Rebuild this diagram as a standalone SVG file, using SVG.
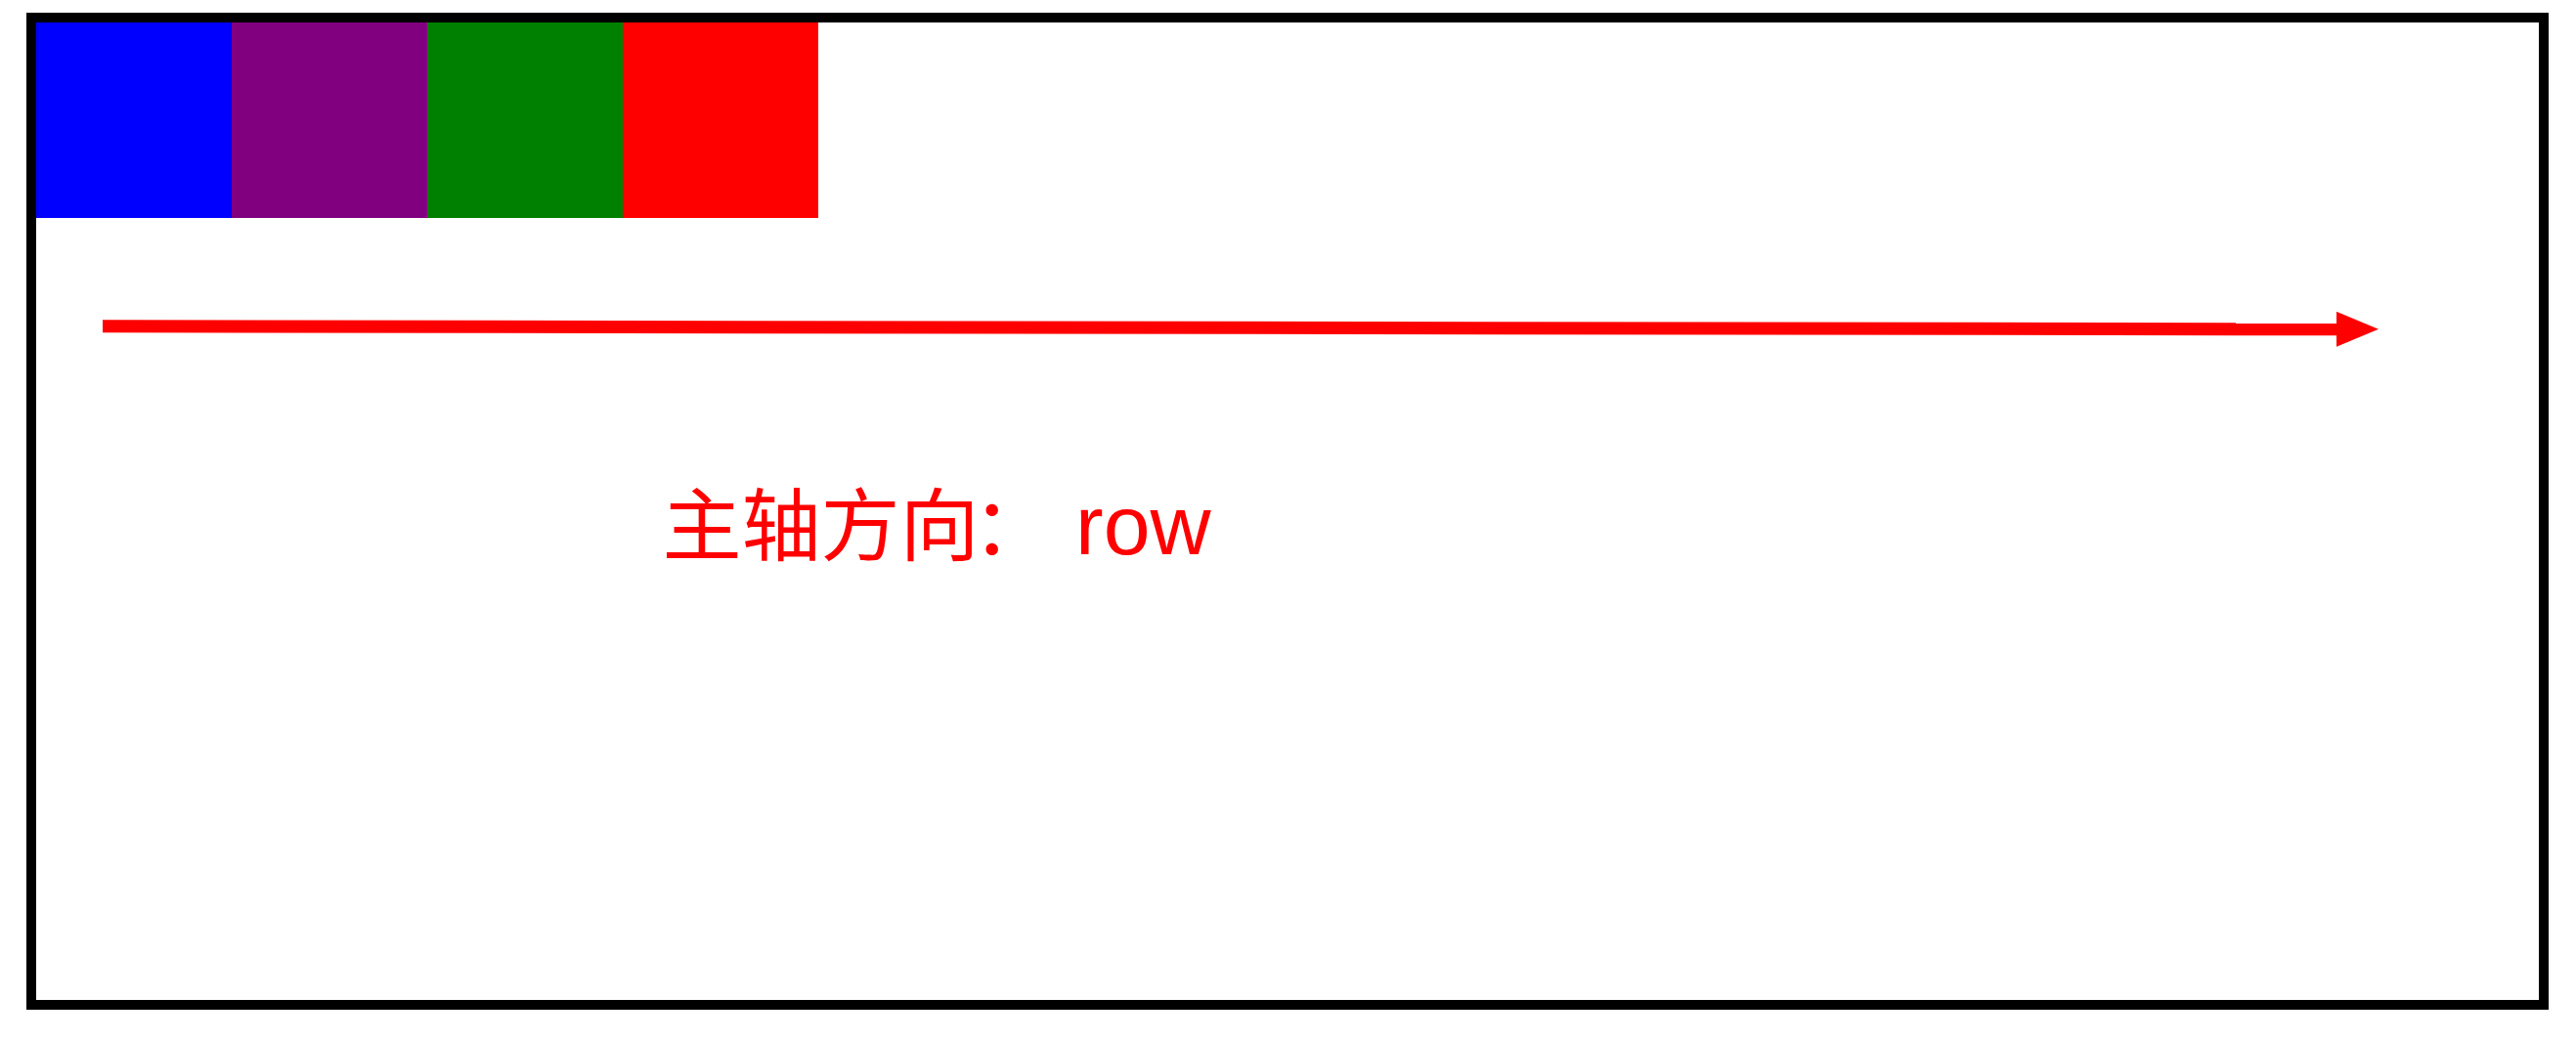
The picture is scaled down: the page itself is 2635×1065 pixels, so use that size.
<svg xmlns="http://www.w3.org/2000/svg" width="2635" height="1065" viewBox="0 0 2635 1065">
  <style>
    .box { stroke: none; }
    .label { font-family: "Noto Sans CJK SC", "Noto Sans", sans-serif; font-size: 81px; fill: #ff0000; }
    .latin { font-family: "Liberation Sans", Arial, sans-serif; font-size: 86px; }
  </style>
  <defs>
    <marker id="arrow" markerUnits="userSpaceOnUse" markerWidth="44" markerHeight="36" refX="0" refY="18" orient="auto">
      <path d="M0,0 L43,18 L0,36 Z" fill="#ff0000"/>
    </marker>
  </defs>
  <rect width="2635" height="1065" fill="#ffffff"/>
  <g id="container">
    <rect x="32" y="18" width="2570" height="1010" fill="none" stroke="#000000" stroke-width="10"/>
  </g>
  <g id="item-blue"><rect class="box" x="37" y="23" width="200" height="200" fill="#0000ff"/></g>
  <g id="item-purple"><rect class="box" x="237" y="23" width="200" height="200" fill="#800080"/></g>
  <g id="item-green"><rect class="box" x="437" y="23" width="200" height="200" fill="#008000"/></g>
  <g id="item-red"><rect class="box" x="637" y="23" width="200" height="200" fill="#ff0000"/></g>
  <g id="connectors">
    <line x1="105" y1="333.8" x2="2390" y2="336.8" stroke="#ff0000" stroke-width="13" marker-end="url(#arrow)"/>
  </g>
  <g id="label">
    <text class="label" y="567"><tspan x="677.5">主轴方向</tspan><tspan x="994.5">： </tspan><tspan class="latin" x="1100">row</tspan></text>
  </g>
</svg>
